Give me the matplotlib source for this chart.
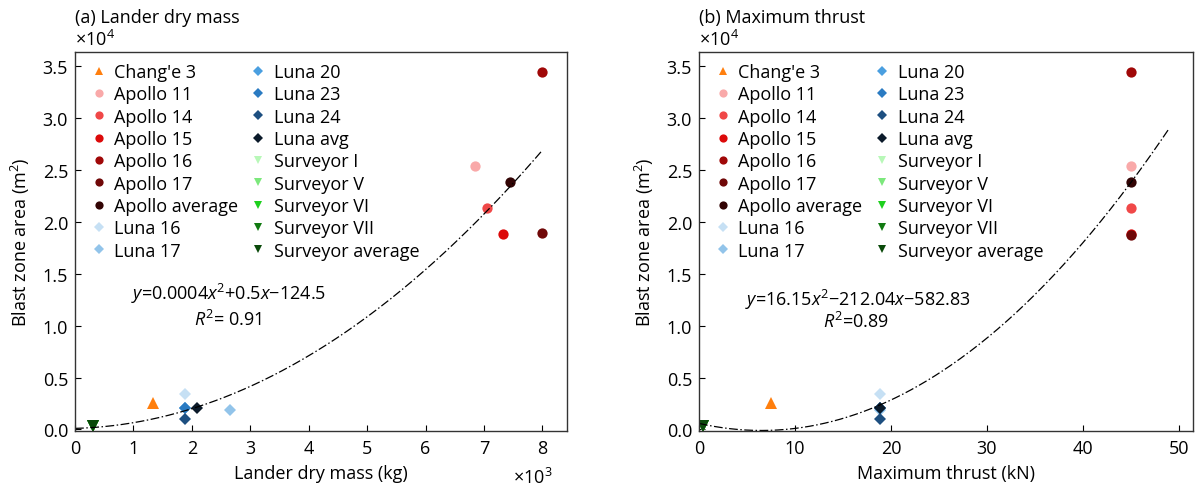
import numpy as np
import matplotlib
matplotlib.use("Agg")
import matplotlib.pyplot as plt

plt.rcParams["font.family"] = ["Open Sans", "DejaVu Sans"]
plt.rcParams["mathtext.fontset"] = "custom"
plt.rcParams["mathtext.rm"] = "Open Sans"
plt.rcParams["mathtext.it"] = "Open Sans:italic"
plt.rcParams["xtick.direction"] = "in"
plt.rcParams["ytick.direction"] = "in"

# ── data (blast zone area in 1e4 m²) ────────────────────────────────
LABELS = ["Chang'e 3", "Apollo 11", "Apollo 14", "Apollo 15", "Apollo 16",
          "Apollo 17", "Apollo average", "Luna 16", "Luna 17", "Luna 20",
          "Luna 23", "Luna 24", "Luna avg", "Surveyor I", "Surveyor V",
          "Surveyor VI", "Surveyor VII", "Surveyor average"]
MARKERS = ["^", "o", "o", "o", "o", "o", "o", "D", "D", "D", "D", "D", "D",
           "v", "v", "v", "v", "v"]
COLORS = ["#ff7f0e", "#f9a9a9", "#f04848", "#dc0a0a", "#a00808", "#700808",
          "#320404", "#c6e0f4", "#92c4ea", "#4a9fe0", "#2a7bc2", "#1d4f80",
          "#0b1a2a", "#b8f8b8", "#7ce87c", "#1ed01e", "#117a11", "#0a4a0a"]

DRY_MASS = [1.33, 6.85, 7.05, 7.33, 8.0, 8.0, 7.45, 1.88, 2.65, 1.88, 1.88,
            1.88, 2.08, 0.30, 0.30, 0.30, 0.30, 0.30]        # x1e3 kg
THRUST = [7.5, 45, 45, 45, 45, 45, 45, 18.9, 18.9, 18.9, 18.9, 18.9, 18.9,
          0.45, 0.45, 0.45, 0.45, 0.45]                      # kN
AREA_A = [0.25, 2.54, 2.13, 1.88, 3.44, 1.89, 2.38, 0.34, 0.19, 0.21, 0.21,
          0.10, 0.21, 0.03, 0.03, 0.03, 0.03, 0.03]
AREA_B = [0.25, 2.54, 2.13, 1.88, 3.44, 1.87, 2.38, 0.34, 0.19, 0.21, 0.21,
          0.10, 0.21, 0.03, 0.03, 0.03, 0.03, 0.03]

# fitted curves as drawn (polynomial coefficients, highest power first)
FIT_A = [0.040, 0.015, 0.01]
FIT_A_RANGE = (0.0, 8.0)
FIT_B = [0.00161, -0.02094, 0.058]
FIT_B_RANGE = (0.0, 49.0)

EQ_A = "$y$=0.0004$x^2$+0.5$x$\u2212124.5"
R2_A = "$R^2$= 0.91"
EQ_B = "$y$=16.15$x^2$\u2212212.04$x$\u2212582.83"
R2_B = "$R^2$=0.89"

FS = 13

fig = plt.figure(figsize=(11.97, 4.89), dpi=100)
axA = fig.add_axes([0.0627, 0.1166, 0.411, 0.775])
axB = fig.add_axes([0.584, 0.1166, 0.4127, 0.775])


def panel(ax, xs, ys, fit, frange, xlim, xticks):
    for x, y, lab, m, c in zip(xs, ys, LABELS, MARKERS, COLORS):
        ms = 7.4 if m == "o" else (6.6 if m == "D" else 8.0)
        ax.plot([x], [y], linestyle="none", marker=m, ms=ms, color=c,
                markeredgewidth=0, label=lab)
    xx = np.linspace(frange[0], frange[1], 300)
    ax.plot(xx, np.polyval(fit, xx), color="black", lw=0.9,
            linestyle=(0, (7, 2, 1.2, 2)))
    ax.set_xlim(*xlim)
    ax.set_ylim(-0.015, 3.635)
    ax.set_xticks(xticks)
    ax.set_yticks(np.arange(0, 3.51, 0.5))
    ax.set_yticklabels([f"{v:.1f}" for v in np.arange(0, 3.51, 0.5)])
    ax.tick_params(labelsize=FS, length=4, width=0.8)
    ax.tick_params(axis="x", pad=6)
    ax.tick_params(axis="y", pad=5)
    for s in ax.spines.values():
        s.set_linewidth(1.0)
        s.set_color("#333333")
    ax.set_ylabel("Blast zone area (m$^2$)", fontsize=FS, labelpad=8)
    ax.legend(ncol=2, loc="upper left", fontsize=FS, frameon=False,
              markerscale=0.8, handlelength=0.8, handletextpad=0.45,
              labelspacing=0.24, columnspacing=0.7, borderaxespad=0.2,
              bbox_to_anchor=(0.012, 1.0))


panel(axA, DRY_MASS, AREA_A, FIT_A, FIT_A_RANGE, (0, 8.42), range(0, 9))
axA.set_xlabel("Lander dry mass (kg)", fontsize=FS, labelpad=5)
axA.text(0.0, 1.092, "(a) Lander dry mass", transform=axA.transAxes,
         fontsize=FS, ha="left", va="center")
axA.text(0.0, 1.034, "\u00d710$^4$", transform=axA.transAxes,
         fontsize=FS, ha="left", va="center")
axA.text(0.931, -0.12, "\u00d710$^3$", transform=axA.transAxes,
         fontsize=FS, ha="center", va="center")
axA.text(0.311, 0.364, EQ_A, transform=axA.transAxes, fontsize=FS,
         ha="center", va="center")
axA.text(0.311, 0.296, R2_A, transform=axA.transAxes, fontsize=FS,
         ha="center", va="center")

panel(axB, THRUST, AREA_B, FIT_B, FIT_B_RANGE, (0, 51.5), range(0, 51, 10))
axB.set_xlabel("Maximum thrust (kN)", fontsize=FS, labelpad=5)
axB.text(0.0, 1.092, "(b) Maximum thrust", transform=axB.transAxes,
         fontsize=FS, ha="left", va="center")
axB.text(0.0, 1.034, "\u00d710$^4$", transform=axB.transAxes,
         fontsize=FS, ha="left", va="center")
axB.text(0.322, 0.348, EQ_B, transform=axB.transAxes, fontsize=FS,
         ha="center", va="center")
axB.text(0.318, 0.29, R2_B, transform=axB.transAxes, fontsize=FS,
         ha="center", va="center")

fig.savefig("out.png", dpi=100)
